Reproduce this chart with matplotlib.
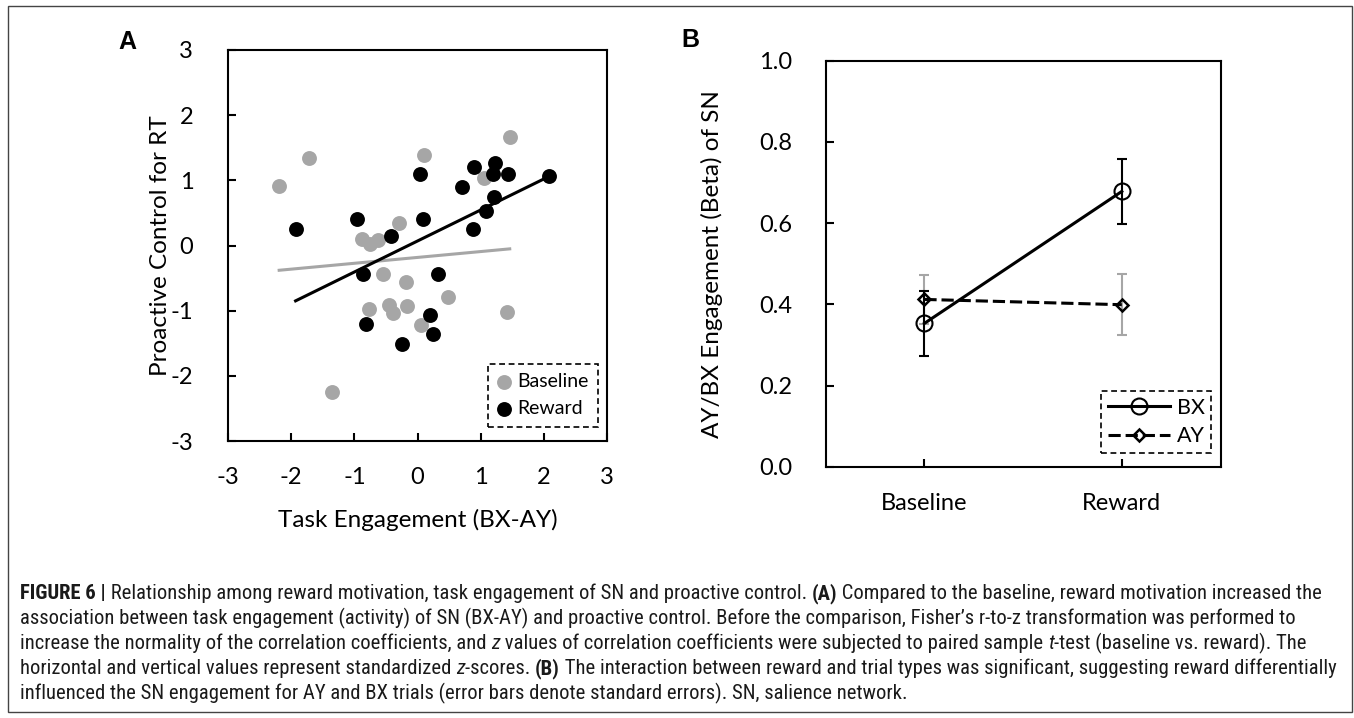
import numpy as np
import matplotlib
matplotlib.use('Agg')
import matplotlib.pyplot as plt
from matplotlib.patches import Rectangle

# ---------- data: panel A (standardized z-scores) ----------
base_x = [-2.19, -1.72, 0.11, 1.46, 1.05, -0.30, -0.88, -0.75, -0.62, -0.55,
          -0.18, 0.49, -0.77, -0.45, -0.38, -0.16, 0.06, 1.41, -1.35]
base_y = [0.91, 1.35, 1.39, 1.66, 1.04, 0.35, 0.10, 0.03, 0.08, -0.44,
          -0.56, -0.79, -0.97, -0.92, -1.04, -0.93, -1.22, -1.02, -2.25]
rew_x = [-1.93, -0.95, -0.42, 0.04, 0.09, 0.71, 0.89, 1.22, 1.19, 1.44,
         1.21, 1.08, 0.88, 2.08, -0.86, 0.33, -0.82, 0.20, 0.24, -0.24]
rew_y = [0.25, 0.41, 0.14, 1.09, 0.41, 0.90, 1.21, 1.27, 1.10, 1.09,
         0.75, 0.53, 0.25, 1.06, -0.44, -0.44, -1.20, -1.06, -1.36, -1.51]
# trend lines: (slope, intercept)
base_fit = (0.090, -0.183)
rew_fit = (0.476, 0.069)

# ---------- data: panel B ----------
conds = ['Baseline', 'Reward']
bx_mean = [0.353, 0.678]
bx_se = [0.080, 0.080]
ay_mean = [0.412, 0.399]
ay_se = [0.060, 0.075]

GRAY = '#a6a6a6'
W, H = 1354, 718
TICK_FS = 17

plt.rcParams['font.family'] = ['Lato', 'DejaVu Sans']
plt.rcParams['axes.unicode_minus'] = False

fig = plt.figure(figsize=(W / 100, H / 100), dpi=100)


def box(l, t, r, b):
    # pixel box -> figure fraction
    return [l / W, 1 - b / H, (r - l) / W, (b - t) / H]


def style_axes(ax, xpad, ypad):
    for sp in ax.spines.values():
        sp.set_linewidth(1.5)
        sp.set_color('black')
    ax.tick_params(direction='in', length=6, width=1.5, labelsize=TICK_FS)
    ax.tick_params(axis='x', pad=xpad)
    ax.tick_params(axis='y', pad=ypad)


def dashed_legend(leg):
    fr = leg.get_frame()
    fr.set_edgecolor('black')
    fr.set_linewidth(1.2)
    fr.set_linestyle((0, (3.5, 2.2)))
    fr.set_boxstyle('square', pad=0)


# ---------- panel A ----------
axA = fig.add_axes(box(228, 50, 607, 441))
axA.scatter(base_x, base_y, s=115, color=GRAY, linewidths=0, label='Baseline', zorder=2)
axA.scatter(rew_x, rew_y, s=115, color='black', linewidths=0, label='Reward', zorder=3)
for xs, fit, c in [(base_x, base_fit, GRAY), (rew_x, rew_fit, 'black')]:
    xx = np.array([min(xs), max(xs)])
    axA.plot(xx, fit[0] * xx + fit[1], color=c, lw=2.2, zorder=4)
axA.set_xlim(-3, 3)
axA.set_ylim(-3, 3)
axA.set_xticks(range(-3, 4))
axA.set_yticks(range(-3, 4))
style_axes(axA, 19, 25)
axA.set_xlabel('Task Engagement (BX-AY)', fontsize=17.5, va='center')
axA.xaxis.set_label_coords(0.5, -0.202)
axA.set_ylabel('Proactive Control for RT', fontsize=17.5, va='center')
axA.yaxis.set_label_coords(-0.179, 0.5)
legA = axA.legend(loc='lower right', bbox_to_anchor=(0.976, 0.036), borderaxespad=0,
                  fontsize=14, handlelength=0.7, handletextpad=0.3, labelspacing=0.5,
                  borderpad=0.5, fancybox=False, framealpha=1, scatterpoints=1)
dashed_legend(legA)

# ---------- panel B ----------
axB = fig.add_axes(box(825.7, 60.7, 1220.5, 466.7))
xpos = np.arange(1, len(conds) + 1)
axB.errorbar(xpos, ay_mean, yerr=ay_se, fmt='none', ecolor=GRAY, elinewidth=1.5,
             capsize=3.9, capthick=1.5, zorder=2)
axB.errorbar(xpos, bx_mean, yerr=bx_se, fmt='none', ecolor='black', elinewidth=1.5,
             capsize=3.9, capthick=1.5, zorder=3)
axB.plot(xpos, bx_mean, '-o', color='black', lw=2.2, ms=11.5, mfc='none', mew=1.5,
         label='BX', zorder=4)
axB.plot(xpos, ay_mean, '--D', color='black', lw=2.2, ms=6.6, mfc='none', mew=1.8,
         dashes=(4, 1.6), label='AY', zorder=4)
axB.set_xlim(0.5, 2.5)
axB.set_ylim(0, 1.0)
axB.set_xticks(xpos)
axB.set_xticklabels(conds)
axB.set_yticks(np.arange(0, 1.01, 0.2))
axB.yaxis.set_major_formatter(matplotlib.ticker.FormatStrFormatter('%.1f'))
style_axes(axB, 19, 24)
axB.set_ylabel('AY/BX Engagement (Beta) of SN', fontsize=17.5, va='center')
axB.yaxis.set_label_coords(-0.288, 0.5)
legB = axB.legend(loc='lower right', bbox_to_anchor=(0.976, 0.0345), borderaxespad=0,
                  fontsize=15.5, handlelength=2.9, handletextpad=0.3, labelspacing=0.4,
                  borderpad=0.3, fancybox=False, framealpha=1, numpoints=1)
dashed_legend(legB)

# panel letters
for lab, px, py in [('A', 127, 42), ('B', 690, 40)]:
    fig.text(px / W, 1 - py / H, lab, fontsize=18, fontweight='bold',
             family=['Liberation Sans', 'DejaVu Sans'], ha='center', va='center')

# outer frame
fig.add_artist(Rectangle((8 / W, 6 / H), (1352 - 8) / W, (712 - 6) / H,
                         transform=fig.transFigure, fill=False, ec='#444444', lw=1))

# ---------- caption ----------
CAPTION = [
    [('FIGURE 6 |', 'bold'),
     (' Relationship among reward motivation, task engagement of SN and proactive control. ', 'normal'),
     ('(A)', 'bold'),
     (' Compared to the baseline, reward motivation increased the', 'normal')],
    [('association between task engagement (activity) of SN (BX-AY) and proactive control. '
      'Before the comparison, Fisher\u2019s r-to-z transformation was performed to', 'normal')],
    [('increase the normality of the correlation coefficients, and ', 'normal'), ('z', 'italic'),
     (' values of correlation coefficients were subjected to paired sample ', 'normal'),
     ('t', 'italic'), ('-test (baseline vs. reward). The', 'normal')],
    [('horizontal and vertical values represent standardized ', 'normal'), ('z', 'italic'),
     ('-scores. ', 'normal'), ('(B)', 'bold'),
     (' The interaction between reward and trial types was significant, suggesting reward differentially', 'normal')],
    [('influenced the SN engagement for AY and BX trials (error bars denote standard errors). '
      'SN, salience network.', 'normal')],
]
CAP_FAMILY = ['Roboto Condensed', 'Liberation Sans Narrow', 'Liberation Sans']
CAP_LEFT, CAP_RIGHT = 20, 1330
renderer = fig.canvas.get_renderer()


def seg_kw(style, size):
    kw = dict(fontsize=size, family=CAP_FAMILY, color='#1a1a1a')
    if style == 'bold':
        kw['fontweight'] = 'bold'
    elif style == 'italic':
        kw['fontstyle'] = 'italic'
    return kw


def text_width(s, kw):
    # wrap in bars so leading/trailing spaces count
    t1 = fig.text(0, 0, '|' + s + '|', **kw)
    t2 = fig.text(0, 0, '||', **kw)
    w = t1.get_window_extent(renderer).width - t2.get_window_extent(renderer).width
    t1.remove()
    t2.remove()
    return w


# size the caption so that its first line spans the same width as in the figure
probe = 14
w1 = sum(text_width(s, seg_kw(st, probe)) for s, st in CAPTION[0])
cap_fs = min(15, probe * (CAP_RIGHT - CAP_LEFT) / w1)

for i, line in enumerate(CAPTION):
    x = CAP_LEFT
    y = 599 + 25 * i
    for s, style in line:
        kw = seg_kw(style, cap_fs)
        fig.text(x / W, 1 - y / H, s, va='baseline', ha='left', **kw)
        x += text_width(s, kw)

fig.savefig('out.png', dpi=100)
